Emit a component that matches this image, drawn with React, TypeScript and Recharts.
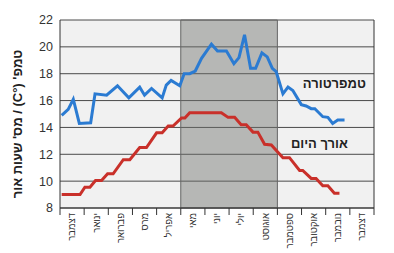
import React from "react";
import {
  CartesianGrid,
  Line,
  LineChart,
  ReferenceArea,
  ReferenceDot,
  ReferenceLine,
  XAxis,
  YAxis,
} from "recharts";

const months = [
  "דצמבר",
  "ינואר",
  "פברואר",
  "מרס",
  "אפריל",
  "מאי",
  "יוני",
  "יולי",
  "אוגוסט",
  "ספטמבר",
  "אוקטובר",
  "נובמבר",
  "דצמבר",
];

const yTicks = [8, 10, 12, 14, 16, 18, 20, 22];

// temperature, x in months from the start of December
const tempMonth = [
  0.07, 0.34, 0.55, 0.8, 1.27, 1.45, 1.93, 2.38, 2.85, 3.3, 3.5, 3.79, 4.23,
  4.4, 4.6, 4.96, 5.14, 5.37, 5.6, 5.86, 6.27, 6.52, 6.89, 7.2, 7.41, 7.64,
  7.89, 8.1, 8.36, 8.58, 8.79, 8.95, 9.23, 9.44, 9.64, 9.99, 10.19, 10.4,
  10.55, 10.88, 11.09, 11.29, 11.5, 11.78,
];
const tempValue = [
  14.9, 15.35, 16.1, 14.3, 14.35, 16.5, 16.4, 17.1, 16.2, 17.0, 16.4, 16.9,
  16.2, 17.15, 17.5, 17.1, 18.0, 18.0, 18.2, 19.15, 20.2, 19.7, 19.7, 18.75,
  19.2, 20.9, 18.4, 18.4, 19.55, 19.25, 18.4, 18.15, 16.5, 17.0, 16.75, 15.7,
  15.6, 15.4, 15.4, 14.8, 14.75, 14.3, 14.55, 14.55,
];

// day length (hours of light)
const dayMonth = [
  0.07, 0.83, 1.03, 1.24, 1.47, 1.72, 1.97, 2.2, 2.62, 2.89, 3.3, 3.58, 4.0,
  4.23, 4.48, 4.68, 5.03, 5.17, 5.37, 6.68, 6.96, 7.23, 7.5, 7.71, 7.99, 8.19,
  8.47, 8.75, 9.23, 9.5, 9.92, 10.05, 10.4, 10.6, 10.88, 11.09, 11.36, 11.57,
];
const dayValue = [
  9.0, 9.0, 9.55, 9.55, 10.05, 10.05, 10.55, 10.55, 11.6, 11.6, 12.5, 12.5,
  13.6, 13.6, 14.1, 14.1, 14.7, 14.7, 15.1, 15.1, 14.75, 14.75, 14.2, 14.2,
  13.65, 13.65, 12.75, 12.7, 11.75, 11.75, 10.8, 10.8, 10.2, 10.2, 9.65, 9.65,
  9.1, 9.1,
];

const tempData = tempMonth.map((m, i) => ({ m, v: tempValue[i] }));
const dayData = dayMonth.map((m, i) => ({ m, v: dayValue[i] }));

const FONT = "'Liberation Sans', Arial, sans-serif";
const WIDTH = 394;
const HEIGHT = 253;
const margin = { top: 20, right: 20, bottom: 0, left: 0 };
const halfStep = (WIDTH - 60 - margin.right) / months.length / 2;

function MonthTick({ x, y, payload }: any) {
  const label = months[payload.value];
  if (!label) return <g />;
  return (
    <text
      transform={`translate(${x + halfStep},${y - 2}) rotate(-90)`}
      textAnchor="end"
      dy="0.35em"
      fontSize={9.5}
      fill="#333"
      fontFamily={FONT}
    >
      {label}
    </text>
  );
}

export default function App() {
  return (
    <div style={{ position: "absolute", left: 0, top: 0, background: "#fff", fontFamily: FONT }}>
      <LineChart width={WIDTH} height={HEIGHT} margin={margin}>
        <CartesianGrid vertical={false} stroke="#4a4a4a" fill="#f1f1f1" fillOpacity={1} />
        <ReferenceArea x1={5} x2={9} fill="#6e716c" fillOpacity={0.45} stroke="#666" />
        <XAxis
          type="number"
          dataKey="m"
          domain={[0, 13]}
          ticks={[0, 1, 2, 3, 4, 5, 6, 7, 8, 9, 10, 11, 12, 13]}
          interval={0}
          tickSize={7}
          tickMargin={0}
          height={45}
          axisLine={{ stroke: "#333" }}
          tickLine={{ stroke: "#333" }}
          tick={<MonthTick />}
        />
        <YAxis
          type="number"
          domain={[8, 22]}
          ticks={yTicks}
          interval={0}
          width={60}
          tickLine={false}
          tickSize={0}
          tickMargin={7}
          axisLine={{ stroke: "#333" }}
          tick={{ fill: "#333", fontSize: 12.5, fontFamily: FONT }}
          label={{
            content: () => (
              <text
                transform="translate(17,124) rotate(-90)"
                textAnchor="middle"
                direction="rtl"
                style={{ direction: "rtl", unicodeBidi: "embed" }}
                dy="0.35em"
                fontSize={13}
                fontWeight="bold"
                fill="#222"
                fontFamily={FONT}
              >
                טמפ' (°C) / מס' שעות אור
              </text>
            ),
          }}
        />
        <ReferenceLine x={13} stroke="#333" />
        <Line
          data={dayData}
          dataKey="v"
          type="linear"
          stroke="#c9302a"
          strokeWidth={3}
          dot={false}
          isAnimationActive={false}
        />
        <Line
          data={tempData}
          dataKey="v"
          type="linear"
          stroke="#2b7bd2"
          strokeWidth={3}
          dot={false}
          isAnimationActive={false}
        />
        <ReferenceDot
          x={11.36}
          y={17.3}
          r={0}
          fill="none"
          stroke="none"
          label={{ value: "טמפרטורה", position: "center", fontSize: 13, fontWeight: "bold", fill: "#222", fontFamily: FONT }}
        />
        <ReferenceDot
          x={10.74}
          y={12.84}
          r={0}
          fill="none"
          stroke="none"
          label={{ value: "אורך היום", position: "center", fontSize: 13, fontWeight: "bold", fill: "#222", fontFamily: FONT }}
        />
      </LineChart>
    </div>
  );
}
